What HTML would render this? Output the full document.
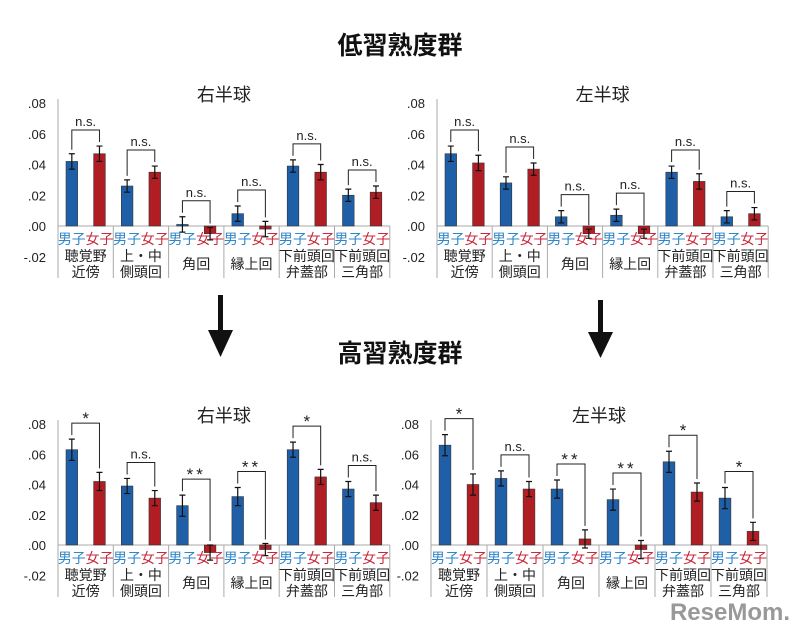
<!DOCTYPE html>
<html><head><meta charset="utf-8">
<style>
body{margin:0;background:#fff;width:800px;height:634px;overflow:hidden;font-family:"Liberation Sans","Noto Sans CJK JP",sans-serif;}
svg text{font-family:"Liberation Sans","Noto Sans CJK JP",sans-serif;}
</style></head>
<body>
<svg id="c" width="800" height="634" xmlns="http://www.w3.org/2000/svg">
<text x="400" y="54" text-anchor="middle" font-size="25" font-weight="bold" fill="#111">低習熟度群</text>
<text x="400" y="362" text-anchor="middle" font-size="25" font-weight="bold" fill="#111">高習熟度群</text>
<g><rect x="218" y="295" width="5" height="40" fill="#111"/><polygon points="208,330 233,330 220.5,357" fill="#111"/></g>
<g><rect x="598" y="300" width="5" height="37" fill="#111"/><polygon points="588,332 613,332 600.5,358" fill="#111"/></g>
<text x="790" y="620" text-anchor="end" font-size="24" font-weight="bold" fill="#999">ReseMom.</text>
</svg>
<script>
const cats=[["聴覚野","近傍"],["上・中","側頭回"],["","角回"],["","縁上回"],["下前頭回","弁蓋部"],["下前頭回","三角部"]];
const tickLabels=[".08",".06",".04",".02",".00","-.02"];
const tickVals=[0.08,0.06,0.04,0.02,0,-0.02];
const tlMale=[0.042,0.026,0.001,0.008,0.039,0.020];
const tlFemale=[0.047,0.035,-0.005,-0.002,0.035,0.022];
const tlErrM=[0.005,0.004,0.005,0.005,0.004,0.004];
const tlErrF=[0.005,0.004,0.004,0.005,0.005,0.004];
const tlSig=["n.s.","n.s.","n.s.","n.s.","n.s.","n.s."];
const trMale=[0.047,0.028,0.006,0.007,0.035,0.006];
const trFemale=[0.041,0.037,-0.005,-0.005,0.029,0.008];
const trErrM=[0.005,0.004,0.004,0.004,0.004,0.004];
const trErrF=[0.005,0.004,0.003,0.003,0.005,0.004];
const trSig=["n.s.","n.s.","n.s.","n.s.","n.s.","n.s."];
const blMale=[0.063,0.039,0.026,0.032,0.063,0.037];
const blFemale=[0.042,0.031,-0.005,-0.003,0.045,0.028];
const blErrM=[0.007,0.005,0.007,0.006,0.005,0.005];
const blErrF=[0.006,0.005,0.005,0.004,0.005,0.005];
const blSig=["*","n.s.","**","**","*","n.s."];
const brMale=[0.066,0.044,0.037,0.030,0.055,0.031];
const brFemale=[0.040,0.037,0.004,-0.003,0.035,0.009];
const brErrM=[0.007,0.005,0.006,0.007,0.007,0.007];
const brErrF=[0.007,0.005,0.006,0.006,0.006,0.006];
const brSig=["*","n.s.","**","**","*","*"];

const NS="http://www.w3.org/2000/svg";
const svg=document.getElementById('c');
function mk(t,a,p){const e=document.createElementNS(NS,t);for(const k in a)e.setAttribute(k,a[k]);(p||svg).appendChild(e);return e;}

function panel(name,title,ax,y0,y8,cw,male,female,em,ef,sig){
  const g=mk('g',{});
  
  
  const ppu=(y0-y8)/0.08;
  const Y=v=>y0-v*ppu;
  const right=ax+cw*6;
  const t=mk('text',{x:(ax+right)/2,y:y8-2,'text-anchor':'middle','font-size':18,fill:'#222'},g);t.textContent=title;
  
  
  tickVals.forEach((v,i)=>{const tx=mk('text',{x:ax-12,y:Y(v)+5,'text-anchor':'end','font-size':13,fill:'#222'},g);tx.textContent=tickLabels[i];
    
    });
  const yl=mk('line',{x1:ax,y1:y8-4,x2:ax,y2:y0+52,stroke:'#aaa','stroke-width':1},g);
  
  
  const xl=mk('line',{x1:ax,y1:y0,x2:right,y2:y0,stroke:'#aaa','stroke-width':1},g);
  
  
  const bw=cw*0.21;
  for(let i=0;i<6;i++){
    const cx=ax+cw*i;
    const sep=mk('line',{x1:cx+cw,y1:y0,x2:cx+cw,y2:y0+52,stroke:'#aaa'},g);
    
    
    const xm=cx+cw*0.25,xf=cx+cw*0.75;
    [[xm,male[i],em[i],'#1f5fa8','male-bar'],[xf,female[i],ef[i],'#b01e24','female-bar']].forEach(([x,v,e,c,n])=>{
      const r=mk('rect',{x:x-bw/2,y:Math.min(Y(v),y0),width:bw,height:Math.abs(Y(v)-y0),fill:c,stroke:'#333','stroke-width':0.6},g);
      
      
      const eb=mk('path',{d:`M${x},${Y(v+e)}V${Y(v-e)}M${x-3},${Y(v+e)}h6M${x-3},${Y(v-e)}h6`,stroke:'#111','stroke-width':1.2,fill:'none'},g);
      
      
    });
    const tm=Y(male[i]+em[i]),tf=Y(female[i]+ef[i]);
    const by=Math.min(tm,tf)-16;
    const br=mk('path',{d:`M${xm},${tm-4}V${by}H${xf}V${tf-4}`,stroke:'#222','stroke-width':1,fill:'none'},g);
    
    
    const st=mk('text',{x:(xm+xf)/2,y:by-(sig[i]=='n.s.'?4:-1),'text-anchor':'middle','font-size':sig[i]=='n.s.'?13:17,fill:'#222','letter-spacing':sig[i]=='**'?3:0},g);
    st.textContent=sig[i];
    
    
    const m=mk('text',{x:cx+cw*0.25,y:y0+18,'text-anchor':'middle','font-size':14,fill:'#2f86c8'},g);m.textContent='男子';
    
    
    const f=mk('text',{x:cx+cw*0.75,y:y0+18,'text-anchor':'middle','font-size':14,fill:'#c8283c'},g);f.textContent='女子';
    
    
    const l1=mk('text',{x:cx+cw/2,y:cats[i][0]?y0+35:y0+43,'text-anchor':'middle','font-size':14,fill:'#222'},g);l1.textContent=cats[i][0]||cats[i][1];
    
    
    if(cats[i][0]){const l2=mk('text',{x:cx+cw/2,y:y0+51,'text-anchor':'middle','font-size':14,fill:'#222'},g);l2.textContent=cats[i][1];
      
      }
  }
}
panel('panel-low-right','右半球',58,226,103,55.3,tlMale,tlFemale,tlErrM,tlErrF,tlSig);
panel('panel-low-left','左半球',437,226,103,55.2,trMale,trFemale,trErrM,trErrF,trSig);
panel('panel-high-right','右半球',58,545,424,55.3,blMale,blFemale,blErrM,blErrF,blSig);
panel('panel-high-left','左半球',431,545,424,56,brMale,brFemale,brErrM,brErrF,brSig);
</script>
</body></html>
